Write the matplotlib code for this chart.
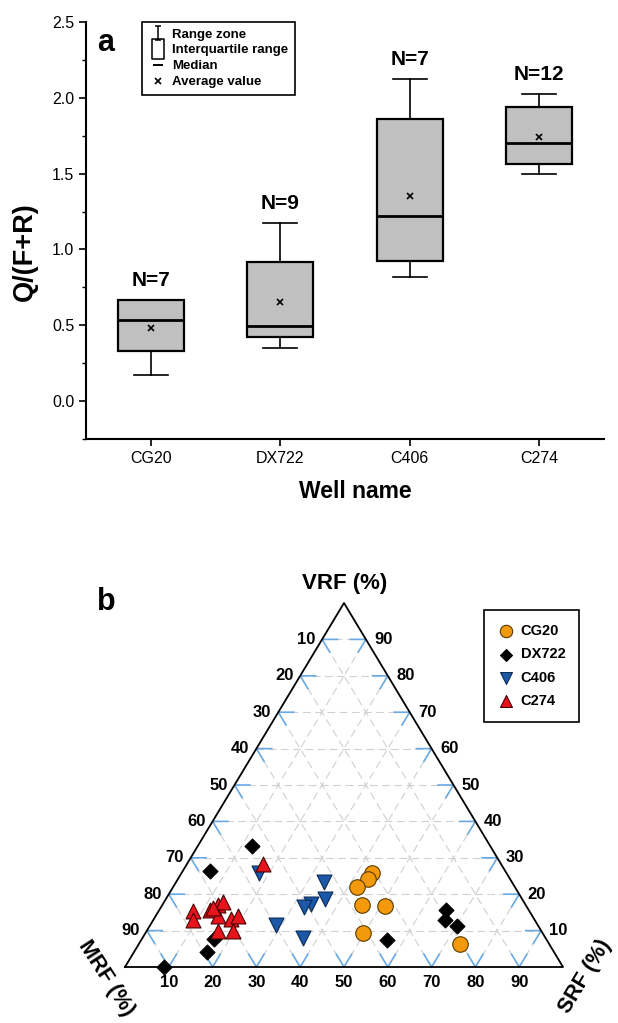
import matplotlib
matplotlib.use("Agg")
import matplotlib.pyplot as plt
import numpy as np
from matplotlib.lines import Line2D
from matplotlib.path import Path
from matplotlib.ticker import MultipleLocator

plt.rcParams['font.family'] = ['Liberation Sans', 'DejaVu Sans']

# ---- panel a: Q/(F+R) box statistics per well ----
wells = ['CG20', 'DX722', 'C406', 'C274']
n_samples = [7, 9, 7, 12]
q_min = [0.176, 0.351, 0.817, 1.498]
q_q1 = [0.334, 0.426, 0.923, 1.564]
q_med = [0.538, 0.494, 1.219, 1.703]
q_q3 = [0.666, 0.918, 1.856, 1.938]
q_max = [0.666, 1.173, 2.122, 2.025]
q_mean = [0.483, 0.657, 1.351, 1.740]

# ---- panel b: ternary composition (%), MRF = 100 - VRF - SRF ----
cg20_vrf = [25.7, 24.3, 22.0, 17.0, 16.7, 9.4, 6.4]
cg20_srf = [43.6, 43.3, 42.0, 45.6, 50.9, 49.6, 73.3]
dx722_vrf = [33.2, 26.4, 7.6, 4.1, 0.0, 7.3, 15.6, 13.0, 11.2]
dx722_srf = [12.4, 6.2, 16.6, 16.6, 9.0, 56.2, 65.5, 66.6, 70.1]
c406_vrf = [25.9, 23.4, 18.8, 17.4, 16.5, 11.5, 8.0]
c406_srf = [17.7, 33.7, 36.3, 33.8, 32.7, 28.8, 36.6]
c274_vrf = [28.3, 15.4, 13.0, 15.6, 17.0, 17.9, 13.9, 13.3, 13.9, 9.8, 9.8, 16.3]
c274_srf = [17.3, 7.8, 9.0, 11.6, 12.7, 13.4, 14.3, 17.5, 18.9, 16.4, 19.8, 12.0]

W, H = 618, 1023
fig = plt.figure(figsize=(W / 100, H / 100), dpi=100)


def px(x, y):
    """pixel position (from top-left) -> figure fraction"""
    return x / W, 1 - y / H


# ================= panel a =================
ax1 = fig.add_axes([86 / W, 1 - 439.3 / H, 518 / W, (439.3 - 21.7) / H])
stats = [dict(label=w, whislo=lo, q1=a, med=m, q3=b, whishi=hi, mean=mu, fliers=[])
         for w, lo, a, m, b, hi, mu in zip(wells, q_min, q_q1, q_med, q_q3, q_max, q_mean)]
pos = np.arange(1, len(wells) + 1)
ax1.bxp(stats, positions=pos, widths=0.51, capwidths=0.26, showmeans=True, patch_artist=True,
        boxprops=dict(facecolor='#c0c0c0', edgecolor='black', linewidth=1.6),
        medianprops=dict(color='black', linewidth=2.0),
        whiskerprops=dict(color='black', linewidth=1.2),
        capprops=dict(color='black', linewidth=1.2),
        meanprops=dict(marker='x', markeredgecolor='black', markersize=4.5, markeredgewidth=1.2))

for p, hi, n in zip(pos, q_max, n_samples):
    ax1.text(p, hi + 0.13, f"N={n}", ha='center', va='center', fontsize=15, fontweight='bold')

ax1.set_xlim(0.5, 4.5)
ax1.set_ylim(-0.25, 2.5)
ax1.set_xticks(pos)
ax1.set_xticklabels(wells)
ax1.yaxis.set_major_locator(MultipleLocator(0.5))
ax1.yaxis.set_minor_locator(MultipleLocator(0.25))
ax1.yaxis.set_major_formatter(matplotlib.ticker.FormatStrFormatter('%.1f'))
ax1.spines[['top', 'right']].set_visible(False)
for s in ['left', 'bottom']:
    ax1.spines[s].set_linewidth(1.5)
ax1.tick_params(which='major', direction='out', length=5, width=1.2, labelsize=11.5)
ax1.tick_params(which='minor', direction='out', length=3, width=1.0)
ax1.tick_params(axis='x', which='minor', bottom=False)

fig.text(*px(355, 492), 'Well name', ha='center', va='center', fontsize=16.5, fontweight='bold')
fig.text(*px(25, 252), 'Q/(F+R)', ha='center', va='center', rotation=90, fontsize=19.5,
         fontweight='bold')
fig.text(*px(106, 43), 'a', ha='center', va='center', fontsize=22, fontweight='bold')

# legend with symbol explanations
ibeam = Path([(-0.5, 1), (0.5, 1), (0, 1), (0, -1), (-0.5, -1), (0.5, -1)],
             [Path.MOVETO, Path.LINETO, Path.MOVETO, Path.LINETO, Path.MOVETO, Path.LINETO])
rect = Path([(-0.3, -0.5), (0.3, -0.5), (0.3, 0.5), (-0.3, 0.5), (-0.3, -0.5)],
            [Path.MOVETO, Path.LINETO, Path.LINETO, Path.LINETO, Path.CLOSEPOLY])
handles = [
    Line2D([], [], ls='none', marker=ibeam, markersize=10, markeredgecolor='black', markeredgewidth=1.1),
    Line2D([], [], ls='none', marker=rect, markersize=14, markerfacecolor='none',
           markeredgecolor='black', markeredgewidth=1.1),
    Line2D([], [], ls='none', marker='_', markersize=7, markeredgecolor='black', markeredgewidth=1.4),
    Line2D([], [], ls='none', marker='x', markersize=4, markeredgecolor='black', markeredgewidth=1.2),
]
leg = ax1.legend(handles, ['Range zone', 'Interquartile range', 'Median', 'Average value'],
                 loc='upper left', bbox_to_anchor=(0.109, 1.0), prop=dict(weight='bold', size=9.5),
                 frameon=True, fancybox=False, edgecolor='black', framealpha=1,
                 handlelength=1.3, handletextpad=0.45, labelspacing=0.28, borderpad=0.5,
                 borderaxespad=0)
leg.get_frame().set_linewidth(1.2)

# ================= panel b =================
# triangle base from x=125 to 563 px, base at y=967 px, apex at y=603 px
ax2 = fig.add_axes([0, 0, 1, 483 / H])
ax2.set_xlim(-125 / 438, (W - 125) / 438)
ax2.set_ylim((967 - H) / 364, (967 - 540) / 364)
ax2.axis('off')


def tern(srf, vrf):
    srf = np.asarray(srf, dtype=float)
    vrf = np.asarray(vrf, dtype=float)
    return (srf + vrf / 2) / 100, vrf / 100


levels = np.arange(10, 100, 10)
grid_kw = dict(color='#d0d0d0', lw=0.8, ls=(0, (7, 4)), zorder=1)
for k in levels:
    ax2.plot(*tern([0, 100 - k], [k, k]), **grid_kw)          # const VRF
    ax2.plot(*tern([k, k], [0, 100 - k]), **grid_kw)          # const SRF
    ax2.plot(*tern([100 - k, 0], [0, 100 - k]), **grid_kw)    # const MRF

# small blue chevron ticks along grid directions
t = 3.5
tick_kw = dict(color='#6aaae4', lw=1.2, zorder=2)
for k in levels:
    ax2.plot(*tern([t, 0, t], [k, k, k - t]), **tick_kw)                         # left edge
    ax2.plot(*tern([k - t, k, k], [t, 0, t]), **tick_kw)                         # bottom edge
    ax2.plot(*tern([100 - k - t, 100 - k, 100 - k], [k, k, k - t]), **tick_kw)   # right edge

ax2.plot(*tern([0, 100, 0, 0], [0, 0, 100, 0]), color='black', lw=1.3, zorder=3)

lab_kw = dict(fontsize=12, fontweight='bold', textcoords='offset points')
for k in levels:
    ax2.annotate(f"{100 - k}", tern(0, k), xytext=(-5, 0), ha='right', va='center', **lab_kw)
    ax2.annotate(f"{k}", tern(100 - k, k), xytext=(6, 0), ha='left', va='center', **lab_kw)
    ax2.annotate(f"{k}", tern(k, 0), xytext=(0, -6), ha='center', va='top', **lab_kw)

ax2.scatter(*tern(cg20_srf, cg20_vrf), marker='o', s=125, facecolor='#f39a0c',
            edgecolor='#5a3a00', linewidth=0.8, zorder=5, label='CG20')
ax2.scatter(*tern(dx722_srf, dx722_vrf), marker='D', s=58, facecolor='black',
            edgecolor='black', linewidth=0.8, zorder=5, label='DX722')
ax2.scatter(*tern(c406_srf, c406_vrf), marker='v', s=115, facecolor='#1c58a8',
            edgecolor='#0b2a55', linewidth=0.8, zorder=5, label='C406')
ax2.scatter(*tern(c274_srf, c274_vrf), marker='^', s=115, facecolor='#e8141c',
            edgecolor='#4a0000', linewidth=0.8, zorder=6, label='C274')

leg2 = ax2.legend(loc='upper left', bbox_to_anchor=px(483.6, 610), bbox_transform=fig.transFigure,
                  prop=dict(weight='bold', size=10.5), frameon=True, fancybox=False,
                  edgecolor='black', framealpha=1, markerscale=0.8, labelspacing=0.65,
                  borderpad=0.95, handletextpad=0.4, handlelength=1.2, borderaxespad=0)
leg2.get_frame().set_linewidth(1.2)

fig.text(*px(345, 584), 'VRF (%)', ha='center', va='center', fontsize=16, fontweight='bold')
fig.text(*px(106, 978), 'MRF (%)', ha='center', va='center', rotation=-57, fontsize=15.5,
         fontweight='bold')
fig.text(*px(585, 976), 'SRF (%)', ha='center', va='center', rotation=59, fontsize=15.5,
         fontweight='bold')
fig.text(*px(106, 602), 'b', ha='center', va='center', fontsize=22, fontweight='bold')

fig.savefig('out.png', dpi=100)
